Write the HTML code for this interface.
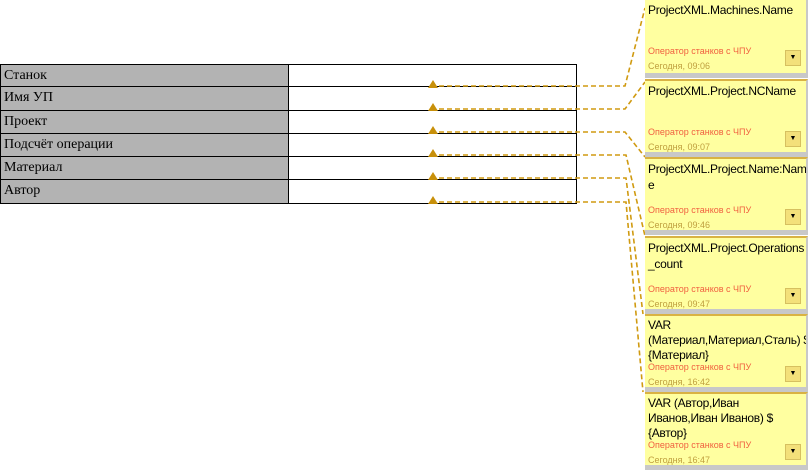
<!DOCTYPE html>
<html><head><meta charset="utf-8"><style>
body{margin:0;width:810px;height:472px;background:#fff;position:relative;overflow:hidden;font-family:"Liberation Sans","DejaVu Sans",sans-serif}
.row{position:absolute;left:0;width:577px;border:1px solid #000;border-top:none;box-sizing:border-box}
.l{position:absolute;left:0;top:0;bottom:0;width:288px;background:#b3b3b3;border-right:1px solid #000;box-sizing:border-box;font-family:"Liberation Serif",serif;font-size:14px;padding-left:3px}
.box{position:absolute;left:645px;width:161px;height:73px;background:#ffffa0;border-top:2px solid #d9b243;border-right:2px solid #c8c8c8;overflow:hidden}
.bar{position:absolute;left:645px;width:163px;height:5px;background:#c8c8c8}
.m{position:absolute;left:3px;top:2px;font-size:12px;line-height:16px;color:#000;white-space:nowrap;letter-spacing:-0.3px}
.a{position:absolute;left:3px;top:46px;font-size:9px;color:#f06040;white-space:nowrap}
.d{position:absolute;left:3px;top:61px;font-size:9px;color:#c0a040;white-space:nowrap}
.b{position:absolute;left:140px;top:50px;width:14px;height:14px;background:#f3e07a;border:1px solid #d6c060;font-size:7px;text-align:center;line-height:14px}
</style></head><body>
<div class="row" style="top:64px;height:23px;border-top:1px solid #000"><div class="l" style="line-height:21px">Станок</div></div>
<div class="row" style="top:87px;height:24px"><div class="l" style="line-height:21px">Имя УП</div></div>
<div class="row" style="top:111px;height:23px"><div class="l" style="line-height:21px">Проект</div></div>
<div class="row" style="top:134px;height:23px"><div class="l" style="line-height:21px">Подсчёт операции</div></div>
<div class="row" style="top:157px;height:23px"><div class="l" style="line-height:21px">Материал</div></div>
<div class="row" style="top:180px;height:24px"><div class="l" style="line-height:21px">Автор</div></div>
<svg width="810" height="472" style="position:absolute;left:0;top:0">
<g fill="none" stroke="#d09a10" stroke-width="1.6" stroke-dasharray="5,3">
<polyline points="439,86 625,86 645,8"/>
<polyline points="439,109 625,109 645,82"/>
<polyline points="439,132 625,132 645,157"/>
<polyline points="439,155 626,155 645,236"/>
<polyline points="439,178 626,178 643,314"/>
<polyline points="439,202 626,202 643,392"/>
</g>
<g fill="#c8900a">
<polygon points="433,80 428,88 438,88"/><polygon points="433,103 428,111 438,111"/>
<polygon points="433,126 428,134 438,134"/><polygon points="433,149 428,157 438,157"/>
<polygon points="433,172 428,180 438,180"/><polygon points="433,196 428,204 438,204"/>
</g>
</svg>
<div class="box" style="top:-2px"><div class="m">ProjectXML.Machines.Name</div><div class="a">Оператор станков с ЧПУ</div><div class="d">Сегодня, 09:06</div><div class="b">▼</div></div><div class="bar" style="top:73px"></div>
<div class="box" style="top:79px"><div class="m">ProjectXML.Project.NCName</div><div class="a">Оператор станков с ЧПУ</div><div class="d">Сегодня, 09:07</div><div class="b">▼</div></div><div class="bar" style="top:152px"></div>
<div class="box" style="top:157px"><div class="m">ProjectXML.Project.Name:Nam<br>e</div><div class="a">Оператор станков с ЧПУ</div><div class="d">Сегодня, 09:46</div><div class="b">▼</div></div><div class="bar" style="top:230px"></div>
<div class="box" style="top:236px"><div class="m">ProjectXML.Project.Operations<br>_count</div><div class="a">Оператор станков с ЧПУ</div><div class="d">Сегодня, 09:47</div><div class="b">▼</div></div><div class="bar" style="top:309px"></div>
<div class="box" style="top:314px"><div class="m" style="line-height:15px">VAR<br>(Материал,Материал,Сталь) $<br>{Материал}</div><div class="a">Оператор станков с ЧПУ</div><div class="d">Сегодня, 16:42</div><div class="b">▼</div></div><div class="bar" style="top:387px"></div>
<div class="box" style="top:392px"><div class="m" style="line-height:15px">VAR (Автор,Иван<br>Иванов,Иван Иванов) $<br>{Автор}</div><div class="a">Оператор станков с ЧПУ</div><div class="d">Сегодня, 16:47</div><div class="b">▼</div></div><div class="bar" style="top:465px"></div>
</body></html>
